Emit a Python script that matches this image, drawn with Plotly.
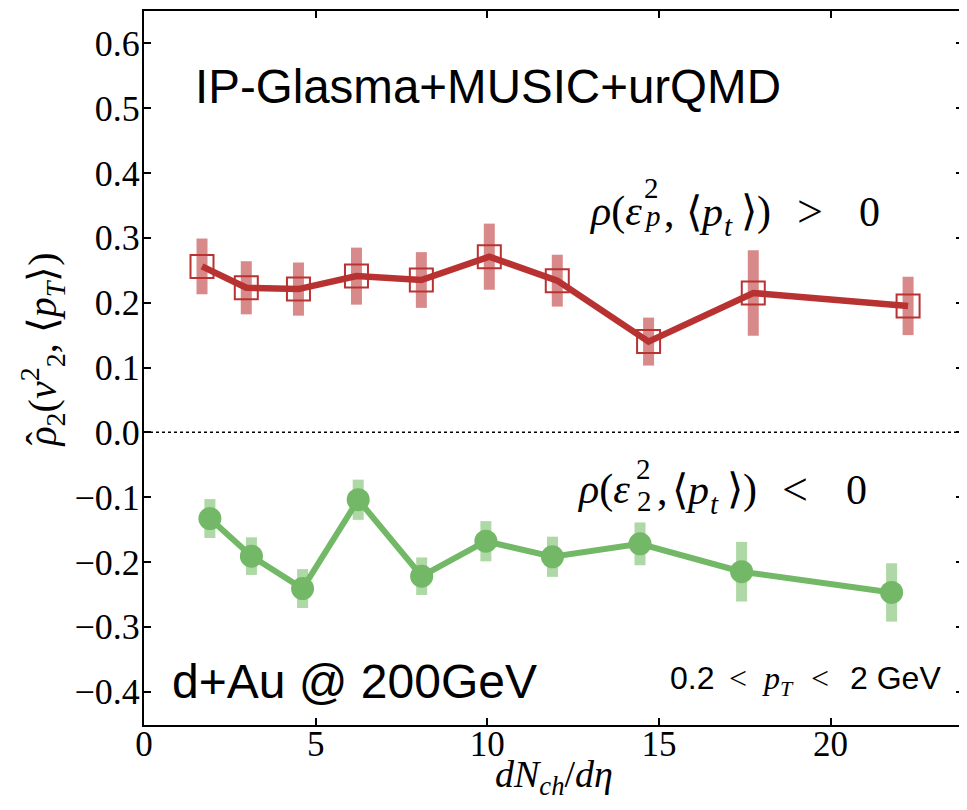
import plotly.graph_objects as go

# Red series: rho(eps_p^2, <p_t>) > 0
red_x = [1.69, 2.98, 4.50, 6.19, 8.08, 10.06, 12.04, 14.70, 17.75, 22.26]
red_y = [0.256, 0.223, 0.221, 0.241, 0.235, 0.271, 0.234, 0.140, 0.215, 0.195]
red_err = [0.043, 0.041, 0.041, 0.044, 0.043, 0.051, 0.040, 0.037, 0.066, 0.045]

# Green series: rho(eps_2^2, <p_t>) < 0
green_x = [1.92, 3.13, 4.62, 6.24, 8.09, 9.96, 11.90, 14.45, 17.41, 21.78]
green_y = [-0.133, -0.191, -0.241, -0.104, -0.222, -0.168, -0.192, -0.172, -0.215, -0.247]
green_err = [0.030, 0.029, 0.030, 0.031, 0.029, 0.031, 0.031, 0.033, 0.046, 0.045]

x_ticks = [0, 5, 10, 15, 20]
y_ticks = [-0.4, -0.3, -0.2, -0.1, 0.0, 0.1, 0.2, 0.3, 0.4, 0.5, 0.6]
y_tick_text = ["\u22120.4", "\u22120.3", "\u22120.2", "\u22120.1", "0.0", "0.1", "0.2", "0.3", "0.4", "0.5", "0.6"]

X_RANGE = [0, 23.86]
Y_RANGE = [-0.4515, 0.6500]

RED = "rgb(185,50,50)"
RED_BAR = "rgba(190,60,60,0.6)"
GREEN = "rgb(114,184,102)"
GREEN_BAR = "rgba(120,190,105,0.6)"

SERIF = "Liberation Serif"
SANS = "Liberation Sans"

# plot area in screen pixels (used only to place text labels)
PL, PR, PT, PB = 143.5, 963.0, 9.0, 725.0


def dx(px):
    return X_RANGE[0] + (px - PL) / (PR - PL) * (X_RANGE[1] - X_RANGE[0])


def dy(py):
    return Y_RANGE[1] - (py - PT) / (PB - PT) * (Y_RANGE[1] - Y_RANGE[0])


def txt(px, py, text, size, family=SERIF, anchor="left"):
    return dict(x=dx(px), y=dy(py), xref="x", yref="y", text=text,
                xanchor=anchor, yanchor="middle", showarrow=False,
                font=dict(family=family, size=size, color="black"))


fig = go.Figure()

# zero line
fig.add_trace(go.Scatter(x=X_RANGE, y=[0, 0], mode="lines",
                         line=dict(color="black", width=1.5, dash="dot"),
                         hoverinfo="skip", showlegend=False))

# error bars (drawn first, beneath lines)
fig.add_trace(go.Scatter(x=red_x, y=red_y, mode="markers",
                         marker=dict(size=1, opacity=0),
                         error_y=dict(type="data", array=red_err, color=RED_BAR, thickness=11, width=0),
                         showlegend=False, hoverinfo="skip"))
fig.add_trace(go.Scatter(x=green_x, y=green_y, mode="markers",
                         marker=dict(size=1, opacity=0),
                         error_y=dict(type="data", array=green_err, color=GREEN_BAR, thickness=11, width=0),
                         showlegend=False, hoverinfo="skip"))

fig.add_trace(go.Scatter(x=red_x, y=red_y, mode="lines+markers",
                         line=dict(color=RED, width=6.5),
                         marker=dict(symbol="square-open", size=23, color=RED, line=dict(width=2, color=RED)),
                         showlegend=False))
fig.add_trace(go.Scatter(x=green_x, y=green_y, mode="lines+markers",
                         line=dict(color=GREEN, width=6),
                         marker=dict(symbol="circle", size=23, color=GREEN),
                         showlegend=False))

annotations = [
    txt(193, 85, "IP-Glasma+MUSIC+urQMD", 47.5, SANS),
    txt(170, 681, "d+Au @ 200GeV", 48, SANS),
    # 0.2 < p_T < 2 GeV
    txt(668, 678, "0.2", 32, SANS),
    txt(738, 678, "&lt;", 32, SERIF, "center"),
    txt(771, 678, "<i>p</i>", 32, SERIF, "center"),
    txt(787, 688, "<i>T</i>", 22, SERIF, "center"),
    txt(820, 678, "&lt;", 32, SERIF, "center"),
    txt(848, 678, "2 GeV", 32, SANS),
    # rho(eps_p^2, <p_t>) > 0
    txt(587, 210.5, "<i>ρ</i>(<i>ε</i>", 42),
    txt(651, 186, "2", 29, SERIF, "center"),
    txt(652, 215, "<i>p</i>", 29, SERIF, "center"),
    txt(662, 210.5, ",", 42),
    txt(684, 210.5, "⟨<i>p</i>", 42),
    txt(728, 225, "<i>t</i>", 29, SERIF, "center"),
    txt(739, 210.5, "⟩)", 42),
    txt(810, 210.5, "&gt;", 46, SERIF, "center"),
    txt(869, 210.5, "0", 42, SERIF, "center"),
    # rho(eps_2^2, <p_t>) < 0
    txt(575, 489, "<i>ρ</i>(<i>ε</i>", 42),
    txt(643, 468, "2", 29, SERIF, "center"),
    txt(644, 500, "2", 29, SERIF, "center"),
    txt(655, 489, ",", 42),
    txt(670, 489, "⟨<i>p</i>", 42),
    txt(714, 503, "<i>t</i>", 29, SERIF, "center"),
    txt(725, 489, "⟩)", 42),
    txt(795, 489, "&lt;", 46, SERIF, "center"),
    txt(856, 489, "0", 42, SERIF, "center"),
    # y-axis title
    dict(x=(42 - PL) / (PR - PL), y=(PB - 349) / (PB - PT), xref="paper", yref="paper",
         text="<i>ρ</i><sub>2</sub>(<i>v</i><sup>2</sup><sub>2</sub>, ⟨<i>p</i><sub><i>T</i></sub>⟩)",
         textangle=-90, xanchor="center", yanchor="middle", showarrow=False,
         font=dict(family=SERIF, size=40, color="black")),
    dict(x=(40 - PL) / (PR - PL), y=(PB - 438) / (PB - PT), xref="paper", yref="paper",
         text="\u02c6", textangle=-90, xanchor="center", yanchor="middle", showarrow=False,
         font=dict(family=SERIF, size=40, color="black")),
    # x-axis title
    dict(x=0.5, y=(PB - 777) / (PB - PT), xref="paper", yref="paper",
         text="<i>dN</i><sub><i>ch</i></sub>/<i>dη</i>",
         xanchor="center", yanchor="middle", showarrow=False,
         font=dict(family=SERIF, size=38, color="black")),
]

fig.update_layout(
    width=959, height=794,
    margin=dict(l=135.5, r=4, t=1, b=77),
    plot_bgcolor="white", paper_bgcolor="white",
    annotations=annotations,
    xaxis=dict(range=X_RANGE, tickvals=x_ticks, ticktext=[str(v) for v in x_ticks],
               showgrid=False, zeroline=False, showline=True, linecolor="black", linewidth=2,
               mirror="ticks", ticks="inside", ticklen=7, tickwidth=1.5, tickcolor="black",
               ticklabelstandoff=-13,
               tickfont=dict(family=SERIF, size=35, color="black")),
    yaxis=dict(range=Y_RANGE, tickvals=y_ticks, ticktext=y_tick_text,
               showgrid=False, zeroline=False, showline=True, linecolor="black", linewidth=2,
               mirror="ticks", ticks="inside", ticklen=7, tickwidth=1.5, tickcolor="black",
               ticklabelstandoff=-5,
               tickfont=dict(family=SERIF, size=36, color="black")),
)

fig.write_html("out.html")
